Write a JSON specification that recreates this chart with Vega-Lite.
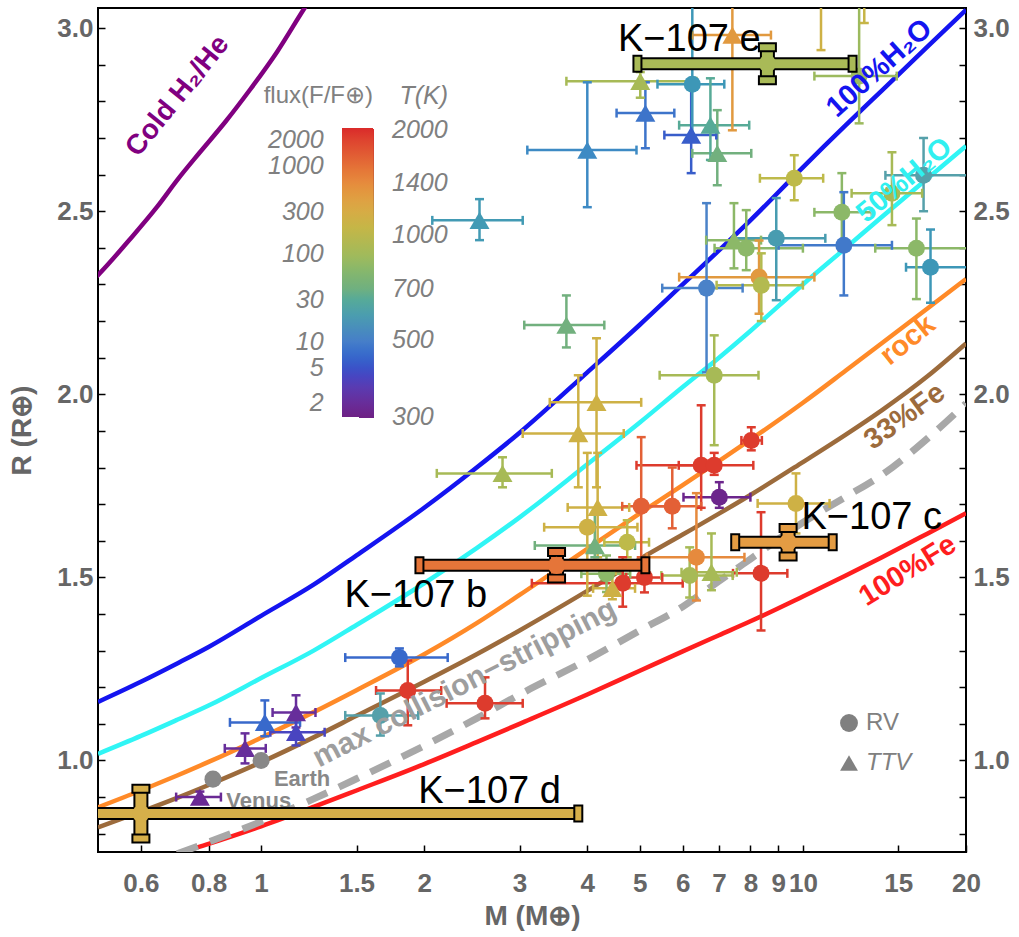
{
  "$schema": "https://vega.github.io/schema/vega-lite/v6.json",
  "width": 868,
  "height": 844,
  "autosize": {"type": "none"},
  "padding": {"left": 98, "top": 8, "right": 53, "bottom": 85},
  "background": "white",
  "config": {
    "view": {"stroke": "#000000", "strokeWidth": 2},
    "axis": {"grid": false, "domain": false, "tickColor": "#000000", "tickWidth": 1.5, "tickSize": -7, "labelFont": "Liberation Sans", "labelFontWeight": "bold", "labelFontSize": 26, "labelColor": "#666666", "titleFont": "Liberation Sans", "titleFontWeight": "bold", "titleFontSize": 28, "titleColor": "#666666", "labelOverlap": false, "labelBound": false, "labelFlush": false},
    "legend": {"padding": 0, "labelOverlap": false},
    "text": {"font": "Liberation Sans"}
  },
  "datasets": {
    "curves": [
      {"c": "cold", "M": 0.48, "R": 2.3}, {"c": "cold", "M": 0.504, "R": 2.331}, {"c": "cold", "M": 0.57, "R": 2.42}, {"c": "cold", "M": 0.642, "R": 2.511}, {"c": "cold", "M": 0.7, "R": 2.585}, {"c": "cold", "M": 0.771, "R": 2.661}, {"c": "cold", "M": 0.86, "R": 2.745}, {"c": "cold", "M": 0.953, "R": 2.831}, {"c": "cold", "M": 1.07, "R": 2.935}, {"c": "cold", "M": 1.203, "R": 3.055}, {"c": "cold", "M": 1.3, "R": 3.13},
      {"c": "h2o100", "M": 0.5, "R": 1.16}, {"c": "h2o100", "M": 0.6, "R": 1.215}, {"c": "h2o100", "M": 0.7, "R": 1.265}, {"c": "h2o100", "M": 0.8, "R": 1.31}, {"c": "h2o100", "M": 1.0, "R": 1.395}, {"c": "h2o100", "M": 1.25, "R": 1.48}, {"c": "h2o100", "M": 1.5, "R": 1.56}, {"c": "h2o100", "M": 2, "R": 1.69}, {"c": "h2o100", "M": 2.5, "R": 1.8}, {"c": "h2o100", "M": 3, "R": 1.895}, {"c": "h2o100", "M": 4, "R": 2.06}, {"c": "h2o100", "M": 5, "R": 2.19}, {"c": "h2o100", "M": 6, "R": 2.3}, {"c": "h2o100", "M": 7, "R": 2.393}, {"c": "h2o100", "M": 8, "R": 2.475}, {"c": "h2o100", "M": 10, "R": 2.62}, {"c": "h2o100", "M": 12, "R": 2.735}, {"c": "h2o100", "M": 14, "R": 2.83}, {"c": "h2o100", "M": 17, "R": 2.95}, {"c": "h2o100", "M": 20, "R": 3.05},
      {"c": "h2o50", "M": 0.5, "R": 1.018}, {"c": "h2o50", "M": 0.6, "R": 1.067}, {"c": "h2o50", "M": 0.7, "R": 1.111}, {"c": "h2o50", "M": 0.8, "R": 1.15}, {"c": "h2o50", "M": 1.0, "R": 1.225}, {"c": "h2o50", "M": 1.25, "R": 1.3}, {"c": "h2o50", "M": 1.5, "R": 1.37}, {"c": "h2o50", "M": 2, "R": 1.484}, {"c": "h2o50", "M": 2.5, "R": 1.58}, {"c": "h2o50", "M": 3, "R": 1.664}, {"c": "h2o50", "M": 4, "R": 1.809}, {"c": "h2o50", "M": 5, "R": 1.923}, {"c": "h2o50", "M": 6, "R": 2.02}, {"c": "h2o50", "M": 7, "R": 2.1}, {"c": "h2o50", "M": 8, "R": 2.173}, {"c": "h2o50", "M": 10, "R": 2.3}, {"c": "h2o50", "M": 12, "R": 2.4}, {"c": "h2o50", "M": 14, "R": 2.485}, {"c": "h2o50", "M": 17, "R": 2.59}, {"c": "h2o50", "M": 20, "R": 2.678},
      {"c": "rock", "M": 0.5, "R": 0.872}, {"c": "rock", "M": 0.6, "R": 0.918}, {"c": "rock", "M": 0.7, "R": 0.959}, {"c": "rock", "M": 0.8, "R": 0.996}, {"c": "rock", "M": 1.0, "R": 1.062}, {"c": "rock", "M": 1.25, "R": 1.132}, {"c": "rock", "M": 1.5, "R": 1.192}, {"c": "rock", "M": 2, "R": 1.29}, {"c": "rock", "M": 2.5, "R": 1.375}, {"c": "rock", "M": 3, "R": 1.452}, {"c": "rock", "M": 4, "R": 1.578}, {"c": "rock", "M": 5, "R": 1.675}, {"c": "rock", "M": 6, "R": 1.752}, {"c": "rock", "M": 7, "R": 1.818}, {"c": "rock", "M": 8, "R": 1.876}, {"c": "rock", "M": 10, "R": 1.977}, {"c": "rock", "M": 12, "R": 2.065}, {"c": "rock", "M": 14, "R": 2.14}, {"c": "rock", "M": 17, "R": 2.235}, {"c": "rock", "M": 20, "R": 2.315},
      {"c": "fe33", "M": 0.5, "R": 0.817}, {"c": "fe33", "M": 0.6, "R": 0.86}, {"c": "fe33", "M": 0.7, "R": 0.898}, {"c": "fe33", "M": 0.8, "R": 0.933}, {"c": "fe33", "M": 1.0, "R": 0.995}, {"c": "fe33", "M": 1.25, "R": 1.063}, {"c": "fe33", "M": 1.5, "R": 1.122}, {"c": "fe33", "M": 2, "R": 1.215}, {"c": "fe33", "M": 2.5, "R": 1.29}, {"c": "fe33", "M": 3, "R": 1.355}, {"c": "fe33", "M": 4, "R": 1.463}, {"c": "fe33", "M": 5, "R": 1.55}, {"c": "fe33", "M": 6, "R": 1.617}, {"c": "fe33", "M": 7, "R": 1.674}, {"c": "fe33", "M": 8, "R": 1.725}, {"c": "fe33", "M": 10, "R": 1.815}, {"c": "fe33", "M": 12, "R": 1.89}, {"c": "fe33", "M": 14, "R": 1.957}, {"c": "fe33", "M": 17, "R": 2.05}, {"c": "fe33", "M": 20, "R": 2.139},
      {"c": "fe100", "M": 0.65, "R": 0.728}, {"c": "fe100", "M": 0.7, "R": 0.745}, {"c": "fe100", "M": 0.8, "R": 0.772}, {"c": "fe100", "M": 1.0, "R": 0.82}, {"c": "fe100", "M": 1.25, "R": 0.873}, {"c": "fe100", "M": 1.5, "R": 0.918}, {"c": "fe100", "M": 2, "R": 0.99}, {"c": "fe100", "M": 2.5, "R": 1.05}, {"c": "fe100", "M": 3, "R": 1.1}, {"c": "fe100", "M": 4, "R": 1.18}, {"c": "fe100", "M": 5, "R": 1.245}, {"c": "fe100", "M": 6, "R": 1.298}, {"c": "fe100", "M": 7, "R": 1.342}, {"c": "fe100", "M": 8, "R": 1.38}, {"c": "fe100", "M": 10, "R": 1.448}, {"c": "fe100", "M": 12, "R": 1.505}, {"c": "fe100", "M": 14, "R": 1.555}, {"c": "fe100", "M": 17, "R": 1.62}, {"c": "fe100", "M": 20, "R": 1.675},
      {"c": "maxcol", "M": 0.7, "R": 0.745}, {"c": "maxcol", "M": 0.8, "R": 0.777}, {"c": "maxcol", "M": 1.0, "R": 0.833}, {"c": "maxcol", "M": 1.25, "R": 0.895}, {"c": "maxcol", "M": 1.5, "R": 0.95}, {"c": "maxcol", "M": 2, "R": 1.04}, {"c": "maxcol", "M": 2.5, "R": 1.115}, {"c": "maxcol", "M": 3, "R": 1.18}, {"c": "maxcol", "M": 4, "R": 1.275}, {"c": "maxcol", "M": 5, "R": 1.355}, {"c": "maxcol", "M": 6, "R": 1.42}, {"c": "maxcol", "M": 7, "R": 1.49}, {"c": "maxcol", "M": 8, "R": 1.55}, {"c": "maxcol", "M": 10, "R": 1.65}, {"c": "maxcol", "M": 12, "R": 1.72}, {"c": "maxcol", "M": 14, "R": 1.78}, {"c": "maxcol", "M": 17, "R": 1.88}, {"c": "maxcol", "M": 20, "R": 1.975}
    ],
    "pts": [
      {"M": 5.01, "Mlo": 3.66, "Mhi": 6.36, "R": 2.855, "Rlo": 2.81, "Rhi": 2.88, "T": 900, "F": 112.1, "method": "TTV"},
      {"M": 5.12, "Mlo": 4.53, "Mhi": 5.79, "R": 2.768, "Rlo": 2.672, "Rhi": 2.852, "T": 470, "F": 8.337, "method": "TTV"},
      {"M": 4.0, "Mlo": 3.1, "Mhi": 4.93, "R": 2.667, "Rlo": 2.511, "Rhi": 2.852, "T": 520, "F": 12.49, "method": "TTV"},
      {"M": 6.22, "Mlo": 5.55, "Mhi": 6.92, "R": 2.708, "Rlo": 2.604, "Rhi": 2.844, "T": 430, "F": 5.841, "method": "TTV"},
      {"M": 6.75, "Mlo": 5.91, "Mhi": 7.96, "R": 2.735, "Rlo": 2.64, "Rhi": 2.863, "T": 650, "F": 30.5, "method": "TTV"},
      {"M": 6.95, "Mlo": 6.25, "Mhi": 8.03, "R": 2.658, "Rlo": 2.571, "Rhi": 2.776, "T": 700, "F": 41.02, "method": "TTV"},
      {"M": 7.41, "Mlo": 6.25, "Mhi": 8.73, "R": 2.981, "Rlo": 2.721, "Rhi": 3.3, "T": 1300, "F": 487.9, "method": "TTV"},
      {"M": 2.53, "Mlo": 2.07, "Mhi": 3.04, "R": 2.475, "Rlo": 2.421, "Rhi": 2.533, "T": 570, "F": 18.03, "method": "TTV"},
      {"M": 3.66, "Mlo": 3.06, "Mhi": 4.3, "R": 2.189, "Rlo": 2.128, "Rhi": 2.27, "T": 700, "F": 41.02, "method": "TTV"},
      {"M": 4.16, "Mlo": 3.41, "Mhi": 5.03, "R": 1.978, "Rlo": 1.746, "Rhi": 2.153, "T": 1100, "F": 250.1, "method": "TTV"},
      {"M": 3.85, "Mlo": 3.04, "Mhi": 4.67, "R": 1.893, "Rlo": 1.746, "Rhi": 2.052, "T": 1100, "F": 250.1, "method": "TTV"},
      {"M": 2.79, "Mlo": 2.11, "Mhi": 3.44, "R": 1.784, "Rlo": 1.746, "Rhi": 1.828, "T": 900, "F": 112.1, "method": "TTV"},
      {"M": 4.18, "Mlo": 3.68, "Mhi": 4.78, "R": 1.691, "Rlo": 1.555, "Rhi": 1.84, "T": 1100, "F": 250.1, "method": "TTV"},
      {"M": 4.13, "Mlo": 3.2, "Mhi": 4.9, "R": 1.587, "Rlo": 1.555, "Rhi": 1.675, "T": 700, "F": 41.02, "method": "TTV"},
      {"M": 6.78, "Mlo": 5.97, "Mhi": 7.55, "R": 1.514, "Rlo": 1.465, "Rhi": 1.62, "T": 900, "F": 112.1, "method": "TTV"},
      {"M": 4.45, "Mlo": 4.1, "Mhi": 4.9, "R": 1.47, "Rlo": 1.44, "Rhi": 1.51, "T": 1100, "F": 250.1, "method": "TTV"},
      {"M": 1.016, "Mlo": 0.876, "Mhi": 1.18, "R": 1.104, "Rlo": 1.066, "Rhi": 1.164, "T": 450, "F": 7.006, "method": "TTV"},
      {"M": 1.16, "Mlo": 1.05, "Mhi": 1.26, "R": 1.131, "Rlo": 1.09, "Rhi": 1.178, "T": 330, "F": 2.026, "method": "TTV"},
      {"M": 1.16, "Mlo": 1.04, "Mhi": 1.31, "R": 1.077, "Rlo": 1.041, "Rhi": 1.131, "T": 390, "F": 3.952, "method": "TTV"},
      {"M": 0.934, "Mlo": 0.857, "Mhi": 1.02, "R": 1.033, "Rlo": 0.992, "Rhi": 1.074, "T": 330, "F": 2.026, "method": "TTV"},
      {"M": 0.771, "Mlo": 0.697, "Mhi": 0.843, "R": 0.9, "Rlo": 0.885, "Rhi": 0.915, "T": 320, "F": 1.791, "method": "TTV"},
      {"M": 7.46, "Mlo": 6.63, "Mhi": 8.37, "R": 2.421, "Rlo": 2.344, "Rhi": 2.522, "T": 800, "F": 69.98, "method": "TTV"},
      {"M": 6.25, "Mlo": 5.39, "Mhi": 7.16, "R": 2.847, "Rlo": 2.7, "Rhi": 3.3, "T": 560, "F": 16.8, "method": "RV"},
      {"M": 12.7, "Mlo": 10.5, "Mhi": 14.9, "R": 2.869, "Rlo": 2.74, "Rhi": 3.3, "T": 850, "F": 89.17, "method": "RV"},
      {"M": 10.8, "Mlo": 10.0, "Mhi": 11.6, "R": 3.3, "Rlo": 2.94, "Rhi": 3.6, "T": 1100, "F": 250.1, "method": "RV"},
      {"M": 12.98, "Mlo": 12.0, "Mhi": 14.0, "R": 3.4, "Rlo": 3.014, "Rhi": 3.8, "T": 1050, "F": 207.7, "method": "RV"},
      {"M": 9.64, "Mlo": 8.33, "Mhi": 10.9, "R": 2.59, "Rlo": 2.53, "Rhi": 2.653, "T": 1000, "F": 170.8, "method": "RV"},
      {"M": 11.8, "Mlo": 10.5, "Mhi": 13.4, "R": 2.497, "Rlo": 2.393, "Rhi": 2.604, "T": 800, "F": 69.98, "method": "RV"},
      {"M": 11.9, "Mlo": 9.02, "Mhi": 14.6, "R": 2.407, "Rlo": 2.27, "Rhi": 2.552, "T": 480, "F": 9.068, "method": "RV"},
      {"M": 14.6, "Mlo": 12.3, "Mhi": 16.6, "R": 2.549, "Rlo": 2.462, "Rhi": 2.661, "T": 900, "F": 112.1, "method": "RV"},
      {"M": 16.7, "Mlo": 14.2, "Mhi": 21, "R": 2.598, "Rlo": 2.5, "Rhi": 2.7, "T": 600, "F": 22.14, "method": "RV"},
      {"M": 16.2, "Mlo": 13.6, "Mhi": 21, "R": 2.399, "Rlo": 2.26, "Rhi": 2.48, "T": 800, "F": 69.98, "method": "RV"},
      {"M": 17.2, "Mlo": 15.5, "Mhi": 21, "R": 2.347, "Rlo": 2.25, "Rhi": 2.45, "T": 560, "F": 16.8, "method": "RV"},
      {"M": 8.93, "Mlo": 7.46, "Mhi": 11.0, "R": 2.426, "Rlo": 2.257, "Rhi": 2.536, "T": 580, "F": 19.33, "method": "RV"},
      {"M": 7.86, "Mlo": 6.87, "Mhi": 10.0, "R": 2.399, "Rlo": 2.339, "Rhi": 2.503, "T": 800, "F": 69.98, "method": "RV"},
      {"M": 6.64, "Mlo": 5.5, "Mhi": 7.74, "R": 2.29, "Rlo": 2.06, "Rhi": 2.522, "T": 500, "F": 10.68, "method": "RV"},
      {"M": 8.3, "Mlo": 5.91, "Mhi": 10.5, "R": 2.32, "Rlo": 2.22, "Rhi": 2.42, "T": 1300, "F": 487.9, "method": "RV"},
      {"M": 8.38, "Mlo": 6.93, "Mhi": 10.0, "R": 2.298, "Rlo": 2.2, "Rhi": 2.385, "T": 950, "F": 139.2, "method": "RV"},
      {"M": 6.86, "Mlo": 5.44, "Mhi": 8.28, "R": 2.052, "Rlo": 1.861, "Rhi": 2.161, "T": 900, "F": 112.1, "method": "RV"},
      {"M": 8.03, "Mlo": 7.7, "Mhi": 8.4, "R": 1.874, "Rlo": 1.847, "Rhi": 1.91, "T": 1900, "F": 2226, "method": "RV"},
      {"M": 6.49, "Mlo": 4.93, "Mhi": 7.0, "R": 1.806, "Rlo": 1.69, "Rhi": 1.97, "T": 1900, "F": 2226, "method": "RV"},
      {"M": 6.86, "Mlo": 5.9, "Mhi": 8.1, "R": 1.806, "Rlo": 1.78, "Rhi": 1.84, "T": 1900, "F": 2226, "method": "RV"},
      {"M": 7.01, "Mlo": 6.02, "Mhi": 8.0, "R": 1.719, "Rlo": 1.69, "Rhi": 1.76, "T": 310, "F": 1.578, "method": "RV"},
      {"M": 5.03, "Mlo": 4.64, "Mhi": 5.7, "R": 1.694, "Rlo": 1.555, "Rhi": 1.883, "T": 1650, "F": 1266, "method": "RV"},
      {"M": 5.74, "Mlo": 5.06, "Mhi": 6.49, "R": 1.694, "Rlo": 1.634, "Rhi": 1.8, "T": 1650, "F": 1266, "method": "RV"},
      {"M": 4.0, "Mlo": 3.33, "Mhi": 4.95, "R": 1.637, "Rlo": 1.45, "Rhi": 1.84, "T": 1100, "F": 250.1, "method": "RV"},
      {"M": 4.74, "Mlo": 4.3, "Mhi": 5.2, "R": 1.596, "Rlo": 1.555, "Rhi": 1.656, "T": 1000, "F": 170.8, "method": "RV"},
      {"M": 6.36, "Mlo": 5.15, "Mhi": 7.8, "R": 1.555, "Rlo": 1.437, "Rhi": 1.73, "T": 1400, "F": 656.3, "method": "RV"},
      {"M": 6.18, "Mlo": 5.48, "Mhi": 7.42, "R": 1.505, "Rlo": 1.445, "Rhi": 1.582, "T": 900, "F": 112.1, "method": "RV"},
      {"M": 8.37, "Mlo": 7.43, "Mhi": 9.36, "R": 1.511, "Rlo": 1.355, "Rhi": 1.678, "T": 1900, "F": 2226, "method": "RV"},
      {"M": 9.71, "Mlo": 8.25, "Mhi": 11.2, "R": 1.702, "Rlo": 1.62, "Rhi": 1.784, "T": 1100, "F": 250.1, "method": "RV"},
      {"M": 5.1, "Mlo": 4.72, "Mhi": 5.5, "R": 1.5, "Rlo": 1.459, "Rhi": 1.546, "T": 1900, "F": 2226, "method": "RV"},
      {"M": 4.65, "Mlo": 3.16, "Mhi": 6.0, "R": 1.484, "Rlo": 1.42, "Rhi": 1.555, "T": 1900, "F": 2226, "method": "RV"},
      {"M": 4.34, "Mlo": 3.9, "Mhi": 4.8, "R": 1.51, "Rlo": 1.46, "Rhi": 1.56, "T": 800, "F": 69.98, "method": "RV"},
      {"M": 1.8, "Mlo": 1.43, "Mhi": 2.21, "R": 1.281, "Rlo": 1.257, "Rhi": 1.306, "T": 450, "F": 7.006, "method": "RV"},
      {"M": 1.865, "Mlo": 1.63, "Mhi": 2.15, "R": 1.191, "Rlo": 1.096, "Rhi": 1.273, "T": 1900, "F": 2226, "method": "RV"},
      {"M": 2.59, "Mlo": 2.2, "Mhi": 3.04, "R": 1.156, "Rlo": 1.115, "Rhi": 1.227, "T": 1900, "F": 2226, "method": "RV"},
      {"M": 1.66, "Mlo": 1.43, "Mhi": 1.95, "R": 1.123, "Rlo": 1.068, "Rhi": 1.183, "T": 600, "F": 22.14, "method": "RV"}
    ],
    "planets": [
      {"name": "Earth", "M": 1.0, "R": 1.0},
      {"name": "Venus", "M": 0.815, "R": 0.949}
    ],
    "k107": [
      {"name": "K−107 b", "M": 3.51, "Mlo": 1.96, "Mhi": 5.12, "R": 1.533, "Rlo": 1.497, "Rhi": 1.569},
      {"name": "K−107 c", "M": 9.39, "Mlo": 7.5, "Mhi": 11.35, "R": 1.596, "Rlo": 1.557, "Rhi": 1.635},
      {"name": "K−107 d", "M": 0.6, "Mlo": 0.3, "Mhi": 3.85, "R": 0.855, "Rlo": 0.787, "Rhi": 0.923},
      {"name": "K−107 e", "M": 8.6, "Mlo": 4.95, "Mhi": 12.35, "R": 2.903, "Rlo": 2.858, "Rhi": 2.948}
    ],
    "labels": [
      {"key": "cold", "text": "Cold H₂/He", "M": 0.702, "R": 2.814},
      {"key": "h2o100", "text": "100%H₂O", "M": 13.83, "R": 2.891},
      {"key": "h2o50", "text": "50%H₂O", "M": 15.38, "R": 2.585},
      {"key": "rock", "text": "rock", "M": 15.6, "R": 2.148},
      {"key": "fe33", "text": "33%Fe", "M": 15.4, "R": 1.94},
      {"key": "fe100", "text": "100%Fe", "M": 15.6, "R": 1.519},
      {"key": "maxcol", "text": "max collision−stripping", "M": 2.375, "R": 1.21},
      {"key": "planet", "text": "Earth", "M": 1.19, "R": 0.95},
      {"key": "planet", "text": "Venus", "M": 0.99, "R": 0.888},
      {"key": "kep", "text": "K−107 e", "M": 6.17, "R": 2.967},
      {"key": "kep", "text": "K−107 b", "M": 1.93, "R": 1.448},
      {"key": "kep", "text": "K−107 c", "M": 13.4, "R": 1.661},
      {"key": "kep", "text": "K−107 d", "M": 2.64, "R": 0.915}
    ]
  },
  "resolve": {"axis": {"y": "independent"}},
  "layer": [
    {
      "data": {"name": "curves"},
      "transform": [{"filter": "datum.c === 'cold'"}],
      "mark": {"type": "line", "stroke": "#800080", "strokeWidth": 4.5, "clip": true, "interpolate": "monotone"},
      "encoding": {
        "x": {"field": "M", "type": "quantitative", "scale": {"type": "log", "domain": [0.5, 20], "nice": false, "zero": false}, "axis": {"orient": "bottom", "values": [0.6, 0.8, 1, 1.5, 2, 3, 4, 5, 6, 7, 8, 9, 10, 15, 20], "format": "~g", "title": "M (M⊕)", "labelPadding": 25, "titlePadding": 6}},
        "y": {"field": "R", "type": "quantitative", "scale": {"domain": [0.75, 3.055], "nice": false, "zero": false}, "axis": {"orient": "left", "values": [0.8, 0.9, 1, 1.1, 1.2, 1.3, 1.4, 1.5, 1.6, 1.7, 1.8, 1.9, 2, 2.1, 2.2, 2.3, 2.4, 2.5, 2.6, 2.7, 2.8, 2.9, 3], "labelExpr": "(datum.value == 1 || datum.value == 1.5 || datum.value == 2 || datum.value == 2.5 || datum.value == 3) ? format(datum.value, '.1f') : ''", "title": "R (R⊕)", "labelPadding": 12, "titlePadding": 20}}
      }
    },
    {
      "data": {"name": "curves"},
      "transform": [{"filter": "datum.c === 'h2o100'"}],
      "mark": {"type": "line", "stroke": "#1414F0", "strokeWidth": 4.5, "clip": true, "interpolate": "monotone"},
      "encoding": {
        "x": {"field": "M", "type": "quantitative"},
        "y": {"field": "R", "type": "quantitative", "axis": {"orient": "right", "values": [0.8, 0.9, 1, 1.1, 1.2, 1.3, 1.4, 1.5, 1.6, 1.7, 1.8, 1.9, 2, 2.1, 2.2, 2.3, 2.4, 2.5, 2.6, 2.7, 2.8, 2.9, 3], "labelExpr": "(datum.value == 1 || datum.value == 1.5 || datum.value == 2 || datum.value == 2.5 || datum.value == 3) ? format(datum.value, '.1f') : ''", "title": null, "labelPadding": 14}}
      }
    },
    {
      "data": {"name": "curves"},
      "transform": [{"filter": "datum.c === 'h2o50'"}],
      "mark": {"type": "line", "stroke": "#30F5F5", "strokeWidth": 4.5, "clip": true, "interpolate": "monotone"},
      "encoding": {"x": {"field": "M", "type": "quantitative"}, "y": {"field": "R", "type": "quantitative", "axis": null}}
    },
    {
      "data": {"name": "curves"},
      "transform": [{"filter": "datum.c === 'rock'"}],
      "mark": {"type": "line", "stroke": "#FF8A28", "strokeWidth": 4.5, "clip": true, "interpolate": "monotone"},
      "encoding": {"x": {"field": "M", "type": "quantitative"}, "y": {"field": "R", "type": "quantitative", "axis": null}}
    },
    {
      "data": {"name": "curves"},
      "transform": [{"filter": "datum.c === 'fe33'"}],
      "mark": {"type": "line", "stroke": "#9C6B3C", "strokeWidth": 4.5, "clip": true, "interpolate": "monotone"},
      "encoding": {"x": {"field": "M", "type": "quantitative"}, "y": {"field": "R", "type": "quantitative", "axis": null}}
    },
    {
      "data": {"name": "curves"},
      "transform": [{"filter": "datum.c === 'fe100'"}],
      "mark": {"type": "line", "stroke": "#FF1E1E", "strokeWidth": 4.5, "clip": true, "interpolate": "monotone"},
      "encoding": {"x": {"field": "M", "type": "quantitative"}, "y": {"field": "R", "type": "quantitative", "axis": null}}
    },
    {
      "data": {"name": "curves"},
      "transform": [{"filter": "datum.c === 'maxcol'"}],
      "mark": {"type": "line", "stroke": "#A8A8A8", "strokeWidth": 7, "strokeDash": [22, 13], "clip": true, "interpolate": "monotone"},
      "encoding": {"x": {"field": "M", "type": "quantitative"}, "y": {"field": "R", "type": "quantitative", "axis": null}}
    },
    {
      "data": {"name": "pts"},
      "mark": {"type": "rule", "strokeWidth": 2.5, "clip": true},
      "encoding": {
        "x": {"field": "Mlo", "type": "quantitative"},
        "x2": {"field": "Mhi"},
        "y": {"field": "R", "type": "quantitative", "axis": null},
        "stroke": {"field": "T", "type": "quantitative", "scale": {"type": "log", "domain": [300, 400, 500, 600, 700, 850, 1000, 1200, 1400, 1700, 2000], "range": ["#6E2185", "#4048C6", "#4A82C8", "#55A0AA", "#72B07E", "#9CBA5E", "#BEBA4A", "#DCA846", "#E68A3D", "#E25836", "#DA2A2A"]}, "legend": {"title": "T(K)", "orient": "none", "legendX": 261, "legendY": 76, "direction": "vertical", "gradientLength": 289, "gradientThickness": 15, "gradientStrokeWidth": 0, "values": [301, 500, 700, 1000, 1400, 1990], "labelExpr": "datum.value < 310 ? '300' : datum.value > 1900 ? '2000' : format(datum.value, 'd')", "labelOffset": 18, "labelFont": "Liberation Sans", "labelFontSize": 25, "labelFontStyle": "italic", "labelColor": "#808080", "titleFont": "Liberation Sans", "titleFontSize": 25, "titleFontStyle": "italic", "titleFontWeight": "normal", "titleColor": "#808080", "titleAnchor": "end", "titlePadding": 20}}
      }
    },
    {
      "data": {"name": "pts"},
      "mark": {"type": "rule", "strokeWidth": 2.5, "clip": true},
      "encoding": {
        "x": {"field": "M", "type": "quantitative"},
        "y": {"field": "Rlo", "type": "quantitative", "axis": null},
        "y2": {"field": "Rhi"},
        "stroke": {"field": "T", "type": "quantitative"}
      }
    },
    {
      "data": {"name": "pts"},
      "mark": {"type": "tick", "orient": "vertical", "size": 9, "thickness": 2.5, "opacity": 1, "clip": true},
      "encoding": {
        "x": {"field": "Mlo", "type": "quantitative"},
        "y": {"field": "R", "type": "quantitative", "axis": null},
        "fill": {"field": "F", "type": "quantitative", "scale": {"type": "log", "domain": [1.384, 4.374, 10.68, 22.14, 41.02, 89.17, 170.8, 354.3, 656.3, 1426.9, 2733.5], "range": ["#6E2185", "#4048C6", "#4A82C8", "#55A0AA", "#72B07E", "#9CBA5E", "#BEBA4A", "#DCA846", "#E68A3D", "#E25836", "#DA2A2A"]}, "legend": {"title": "flux(F/F⊕)", "orient": "none", "legendX": 166, "legendY": 76, "direction": "vertical", "gradientLength": 289, "gradientThickness": 31, "gradientStrokeWidth": 0, "values": [2, 5, 10, 30, 100, 300, 1000, 2000], "format": "d", "labelOffset": {"expr": "datum.value >= 1000 ? -105 : datum.value >= 100 ? -91.1 : datum.value >= 10 ? -77.2 : -63.3"}, "labelFont": "Liberation Sans", "labelFontSize": 25, "labelFontStyle": "italic", "labelColor": "#808080", "titleFont": "Liberation Sans", "titleFontSize": 24, "titleFontWeight": "normal", "titleColor": "#808080", "titleAnchor": "end", "titleAlign": "right", "titlePadding": 20}}
      }
    },
    {
      "data": {"name": "pts"},
      "mark": {"type": "tick", "orient": "vertical", "size": 9, "thickness": 2.5, "opacity": 1, "clip": true},
      "encoding": {
        "x": {"field": "Mhi", "type": "quantitative"},
        "y": {"field": "R", "type": "quantitative", "axis": null},
        "fill": {"field": "F", "type": "quantitative"}
      }
    },
    {
      "data": {"name": "pts"},
      "mark": {"type": "tick", "orient": "horizontal", "size": 9, "thickness": 2.5, "opacity": 1, "clip": true},
      "encoding": {
        "x": {"field": "M", "type": "quantitative"},
        "y": {"field": "Rlo", "type": "quantitative", "axis": null},
        "fill": {"field": "F", "type": "quantitative"}
      }
    },
    {
      "data": {"name": "pts"},
      "mark": {"type": "tick", "orient": "horizontal", "size": 9, "thickness": 2.5, "opacity": 1, "clip": true},
      "encoding": {
        "x": {"field": "M", "type": "quantitative"},
        "y": {"field": "Rhi", "type": "quantitative", "axis": null},
        "fill": {"field": "F", "type": "quantitative"}
      }
    },
    {
      "data": {"name": "pts"},
      "transform": [{"filter": "datum.method === 'RV'"}],
      "mark": {"type": "point", "filled": true, "size": 290, "opacity": 1, "strokeWidth": 0, "clip": true},
      "encoding": {
        "x": {"field": "M", "type": "quantitative"},
        "y": {"field": "R", "type": "quantitative", "axis": null},
        "fill": {"field": "F", "type": "quantitative"},
        "shape": {"field": "method", "type": "nominal", "scale": {"domain": ["RV", "TTV"], "range": ["circle", "triangle-up"]}, "legend": {"title": null, "orient": "none", "legendX": 739, "legendY": 703, "symbolSize": 320, "symbolFillColor": "#808080", "symbolStrokeWidth": 0, "labelFont": "Liberation Sans", "labelFontSize": 24, "labelColor": "#808080", "labelOffset": 5, "rowPadding": 16, "labelFontStyle": {"expr": "datum.label == 'TTV' ? 'italic' : 'normal'"}}}
      }
    },
    {
      "data": {"name": "pts"},
      "transform": [{"filter": "datum.method === 'TTV'"}],
      "mark": {"type": "point", "filled": true, "size": 400, "opacity": 1, "strokeWidth": 0, "clip": true},
      "encoding": {
        "x": {"field": "M", "type": "quantitative"},
        "y": {"field": "R", "type": "quantitative", "axis": null},
        "fill": {"field": "F", "type": "quantitative"},
        "shape": {"field": "method", "type": "nominal"}
      }
    },
    {
      "data": {"name": "planets"},
      "mark": {"type": "circle", "fill": "#888888", "size": 290, "opacity": 1},
      "encoding": {"x": {"field": "M", "type": "quantitative"}, "y": {"field": "R", "type": "quantitative", "axis": null}}
    },
    {
      "data": {"name": "labels"},
      "transform": [{"filter": "datum.key === 'cold'"}],
      "mark": {"type": "text", "angle": -51, "fill": "#800080", "fontSize": 28, "fontWeight": "bold", "align": "center", "baseline": "middle"},
      "encoding": {"x": {"field": "M", "type": "quantitative"}, "y": {"field": "R", "type": "quantitative", "axis": null}, "text": {"field": "text"}}
    },
    {
      "data": {"name": "labels"},
      "transform": [{"filter": "datum.key === 'h2o100'"}],
      "mark": {"type": "text", "angle": -42, "fill": "#1414F0", "fontSize": 29, "fontWeight": "bold", "align": "center", "baseline": "middle"},
      "encoding": {"x": {"field": "M", "type": "quantitative"}, "y": {"field": "R", "type": "quantitative", "axis": null}, "text": {"field": "text"}}
    },
    {
      "data": {"name": "labels"},
      "transform": [{"filter": "datum.key === 'h2o50'"}],
      "mark": {"type": "text", "angle": -40, "fill": "#30F0F0", "fontSize": 29, "fontWeight": "bold", "align": "center", "baseline": "middle"},
      "encoding": {"x": {"field": "M", "type": "quantitative"}, "y": {"field": "R", "type": "quantitative", "axis": null}, "text": {"field": "text"}}
    },
    {
      "data": {"name": "labels"},
      "transform": [{"filter": "datum.key === 'rock'"}],
      "mark": {"type": "text", "angle": -39, "fill": "#FF8A28", "fontSize": 29, "fontWeight": "bold", "align": "center", "baseline": "middle"},
      "encoding": {"x": {"field": "M", "type": "quantitative"}, "y": {"field": "R", "type": "quantitative", "axis": null}, "text": {"field": "text"}}
    },
    {
      "data": {"name": "labels"},
      "transform": [{"filter": "datum.key === 'fe33'"}],
      "mark": {"type": "text", "angle": -36, "fill": "#9C6B3C", "fontSize": 29, "fontWeight": "bold", "align": "center", "baseline": "middle"},
      "encoding": {"x": {"field": "M", "type": "quantitative"}, "y": {"field": "R", "type": "quantitative", "axis": null}, "text": {"field": "text"}}
    },
    {
      "data": {"name": "labels"},
      "transform": [{"filter": "datum.key === 'fe100'"}],
      "mark": {"type": "text", "angle": -32, "fill": "#FF1E1E", "fontSize": 29, "fontWeight": "bold", "align": "center", "baseline": "middle"},
      "encoding": {"x": {"field": "M", "type": "quantitative"}, "y": {"field": "R", "type": "quantitative", "axis": null}, "text": {"field": "text"}}
    },
    {
      "data": {"name": "labels"},
      "transform": [{"filter": "datum.key === 'maxcol'"}],
      "mark": {"type": "text", "angle": -27, "fill": "#9E9E9E", "fontSize": 30, "fontWeight": "bold", "align": "center", "baseline": "middle"},
      "encoding": {"x": {"field": "M", "type": "quantitative"}, "y": {"field": "R", "type": "quantitative", "axis": null}, "text": {"field": "text"}}
    },
    {
      "data": {"name": "labels"},
      "transform": [{"filter": "datum.key === 'planet'"}],
      "mark": {"type": "text", "fill": "#888888", "fontSize": 22, "fontWeight": "bold", "align": "center", "baseline": "middle"},
      "encoding": {"x": {"field": "M", "type": "quantitative"}, "y": {"field": "R", "type": "quantitative", "axis": null}, "text": {"field": "text"}}
    },
    {
      "data": {"name": "k107"},
      "mark": {"type": "rule", "stroke": "#000000", "strokeWidth": 13, "clip": true},
      "encoding": {"x": {"field": "Mlo", "type": "quantitative"}, "x2": {"field": "Mhi"}, "y": {"field": "R", "type": "quantitative", "axis": null}}
    },
    {
      "data": {"name": "k107"},
      "mark": {"type": "rule", "stroke": "#000000", "strokeWidth": 15, "clip": true},
      "encoding": {"x": {"field": "M", "type": "quantitative"}, "y": {"field": "Rlo", "type": "quantitative", "axis": null}, "y2": {"field": "Rhi"}}
    },
    {
      "data": {"name": "k107"},
      "mark": {"type": "rule", "strokeWidth": 9, "clip": true},
      "encoding": {"x": {"field": "Mlo", "type": "quantitative"}, "x2": {"field": "Mhi"}, "y": {"field": "R", "type": "quantitative", "axis": null}, "color": {"field": "name", "type": "nominal", "scale": {"domain": ["K−107 b", "K−107 c", "K−107 d", "K−107 e"], "range": ["#E57539", "#E49C43", "#D6AF4A", "#A9BA57"]}, "legend": null}}
    },
    {
      "data": {"name": "k107"},
      "mark": {"type": "rule", "strokeWidth": 11, "clip": true},
      "encoding": {"x": {"field": "M", "type": "quantitative"}, "y": {"field": "Rlo", "type": "quantitative", "axis": null}, "y2": {"field": "Rhi"}, "color": {"field": "name", "type": "nominal", "legend": null}}
    },
    {
      "data": {"name": "k107"},
      "mark": {"type": "tick", "orient": "vertical", "size": 16, "thickness": 8, "stroke": "#000000", "strokeWidth": 2, "opacity": 1, "clip": true},
      "encoding": {"x": {"field": "Mlo", "type": "quantitative"}, "y": {"field": "R", "type": "quantitative", "axis": null}, "color": {"field": "name", "type": "nominal", "legend": null}}
    },
    {
      "data": {"name": "k107"},
      "mark": {"type": "tick", "orient": "vertical", "size": 16, "thickness": 8, "stroke": "#000000", "strokeWidth": 2, "opacity": 1, "clip": true},
      "encoding": {"x": {"field": "Mhi", "type": "quantitative"}, "y": {"field": "R", "type": "quantitative", "axis": null}, "color": {"field": "name", "type": "nominal", "legend": null}}
    },
    {
      "data": {"name": "k107"},
      "mark": {"type": "tick", "orient": "horizontal", "size": 17, "thickness": 8, "stroke": "#000000", "strokeWidth": 2, "opacity": 1, "clip": true},
      "encoding": {"x": {"field": "M", "type": "quantitative"}, "y": {"field": "Rlo", "type": "quantitative", "axis": null}, "color": {"field": "name", "type": "nominal", "legend": null}}
    },
    {
      "data": {"name": "k107"},
      "mark": {"type": "tick", "orient": "horizontal", "size": 17, "thickness": 8, "stroke": "#000000", "strokeWidth": 2, "opacity": 1, "clip": true},
      "encoding": {"x": {"field": "M", "type": "quantitative"}, "y": {"field": "Rhi", "type": "quantitative", "axis": null}, "color": {"field": "name", "type": "nominal", "legend": null}}
    },
    {
      "data": {"name": "k107"},
      "mark": {"type": "circle", "size": 300, "opacity": 1, "clip": true},
      "encoding": {"x": {"field": "M", "type": "quantitative"}, "y": {"field": "R", "type": "quantitative", "axis": null}, "color": {"field": "name", "type": "nominal", "legend": null}}
    },
    {
      "data": {"name": "labels"},
      "transform": [{"filter": "datum.key === 'kep'"}],
      "mark": {"type": "text", "fill": "#000000", "fontSize": 38, "align": "center", "baseline": "middle"},
      "encoding": {"x": {"field": "M", "type": "quantitative"}, "y": {"field": "R", "type": "quantitative", "axis": null}, "text": {"field": "text"}}
    }
  ]
}
